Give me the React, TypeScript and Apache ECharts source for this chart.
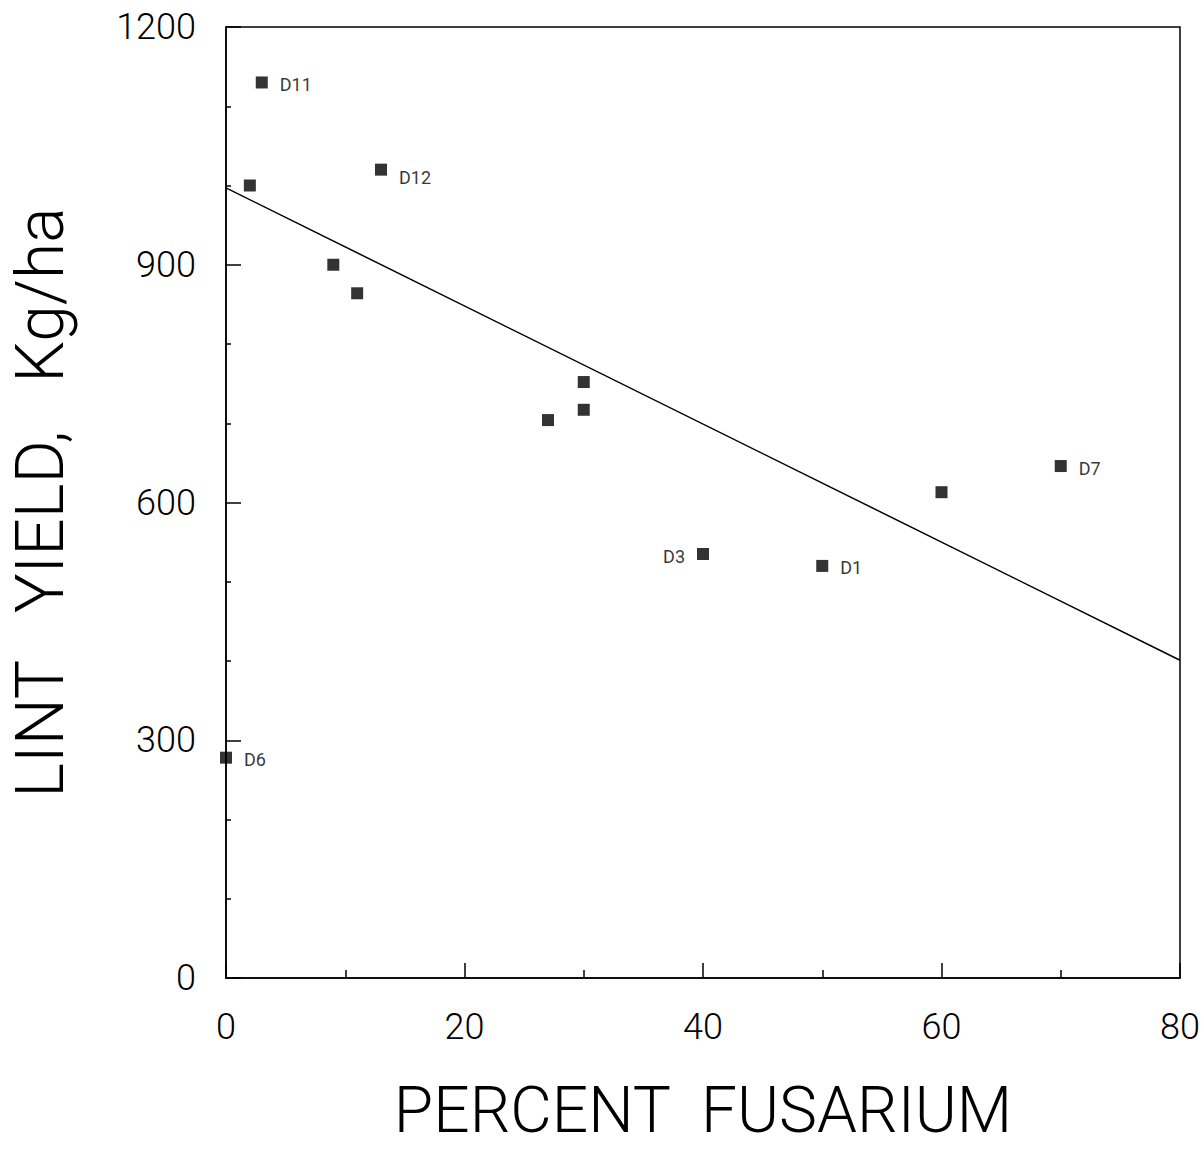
import React, { useEffect, useRef } from "react";
import * as echarts from "echarts";

const fusarium = [3, 2, 13, 9, 11, 27, 30, 30, 40, 50, 60, 70, 0];
const yieldKg = [1130, 1000, 1020, 900, 864, 704, 752, 717, 535, 520, 613, 646, 278];
const pointLabels = ["D11", "", "D12", "", "", "", "", "", "D3", "D1", "", "D7", "D6"];
const labelSide = ["right", "right", "right", "right", "right", "right", "right", "right", "left", "right", "right", "right", "right"];
const fitX = [0, 80];
const fitY = [997, 401];
const xTicks = [0, 20, 40, 60, 80];
const yTicks = [0, 300, 600, 900, 1200];

const FONT = "Roboto";

export default function App() {
  const ref = useRef<HTMLDivElement>(null);
  useEffect(() => {
    document.body.style.margin = "0";
    const chart = echarts.init(ref.current!, null, { renderer: "svg" });
    const scatterData = fusarium.map((x, i) => ({
      value: [x, yieldKg[i]],
      label: {
        show: pointLabels[i] !== "",
        formatter: pointLabels[i],
        position: labelSide[i] as any,
        distance: 12,
        color: "#000",
        fontSize: 18,
        fontFamily: FONT,
        offset: pointLabels[i] === "D12" ? [0, 8] : [0, 2],
      },
    }));
    chart.setOption({
      animation: false,
      backgroundColor: "#fff",
      grid: {
        left: 226,
        right: 24,
        top: 27,
        bottom: 172,
        show: true,
        borderColor: "#000",
        borderWidth: 1.5,
        backgroundColor: "transparent",
        outerBoundsMode: "none",
        containLabel: false,
      },
      xAxis: {
        type: "value",
        min: xTicks[0],
        max: xTicks[xTicks.length - 1],
        interval: 20,
        axisLine: { show: true, lineStyle: { color: "#000", width: 1.5 } },
        axisTick: { show: true, inside: true, length: 15, lineStyle: { color: "#000", width: 1.5 } },
        minorTick: { show: true, splitNumber: 2, length: 8, lineStyle: { color: "#000", width: 1.5 } },
        splitLine: { show: false },
        axisLabel: { color: "#000", fontSize: 36, fontFamily: FONT, fontWeight: 300, margin: 31, formatter: (v: number) => String(v) },
        name: "PERCENT  FUSARIUM",
        nameLocation: "middle",
        nameGap: 100,
        nameTextStyle: { color: "#000", fontSize: 64, lineHeight: 64, fontFamily: FONT, fontWeight: 300 },
      },
      yAxis: {
        type: "value",
        min: yTicks[0],
        max: yTicks[yTicks.length - 1],
        interval: 300,
        axisLine: { show: true, lineStyle: { color: "#000", width: 1.5 } },
        axisTick: { show: true, inside: true, length: 15, lineStyle: { color: "#000", width: 1.5 } },
        minorTick: { show: true, splitNumber: 3, length: 5, lineStyle: { color: "#000", width: 1.5 } },
        splitLine: { show: false },
        axisLabel: { color: "#000", fontSize: 36, fontFamily: FONT, fontWeight: 300, margin: 30, formatter: (v: number) => String(v) },
        name: "LINT   YIELD,   Kg/ha",
        nameLocation: "middle",
        nameRotate: 90,
        nameGap: 153,
        nameTextStyle: { color: "#000", fontSize: 66, lineHeight: 66, fontFamily: FONT, fontWeight: 300 },
      },
      series: [
        {
          type: "line",
          data: fitX.map((x, i) => [x, fitY[i]]),
          showSymbol: false,
          symbol: "none",
          lineStyle: { color: "#000", width: 1.5 },
          z: 2,
        },
        {
          type: "scatter",
          symbol: "rect",
          symbolSize: 12,
          itemStyle: { color: "#000" },
          data: scatterData,
          z: 3,
        },
      ],
    });
    return () => chart.dispose();
  }, []);
  return <div ref={ref} style={{ width: 1204, height: 1150 }} />;
}
